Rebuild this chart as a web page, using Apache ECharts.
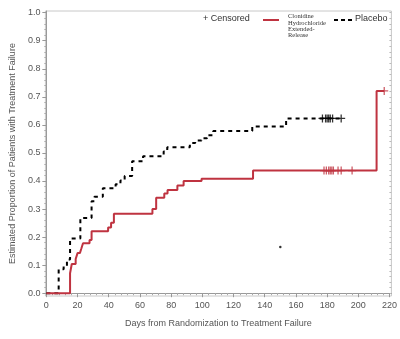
<!DOCTYPE html>
<html>
<head>
<meta charset="utf-8">
<script src="https://cdn.jsdelivr.net/npm/echarts@6/dist/echarts.min.js"></script>
<style>html,body{margin:0;padding:0;background:#fff}#c{width:400px;height:339px}</style>
</head>
<body>
<div id="c"></div>
<script>
// ---- data ----
const xTicks = [0, 20, 40, 60, 80, 100, 120, 140, 160, 180, 200, 220];
const yTicks = [0.0, 0.1, 0.2, 0.3, 0.4, 0.5, 0.6, 0.7, 0.8, 0.9, 1.0];
const xMinorTicks = [4,8,12,16,24,28,32,36,44,48,52,56,64,68,72,76,84,88,92,96,104,108,112,116,124,128,132,136,144,148,152,156,164,168,172,176,184,188,192,196,204,208,212,216];
const yMinorTicks = [0.02,0.04,0.06,0.08,0.12,0.14,0.16,0.18,0.22,0.24,0.26,0.28,0.32,0.34,0.36,0.38,0.42,0.44,0.46,0.48,0.52,0.54,0.56,0.58,0.62,0.64,0.66,0.68,0.72,0.74,0.76,0.78,0.82,0.84,0.86,0.88,0.92,0.94,0.96,0.98];

const clonidineDays = [0, 15.2, 16.3, 18.8, 20, 21.5, 22.5, 23.5, 27.7, 29, 39.6, 41.5, 43.3, 68, 70.4, 75.6, 77.7, 84, 88, 99.5, 132.5, 211.7, 216.6];
const clonidineProp = [0, 0.071, 0.104, 0.122, 0.143, 0.15, 0.16, 0.178, 0.19, 0.221, 0.234, 0.251, 0.283, 0.30, 0.34, 0.355, 0.368, 0.384, 0.40, 0.408, 0.437, 0.721, 0.721];
const clonidineCensorDays = [178, 179.5, 181, 182, 183, 184, 187, 189, 196, 216.6];
const clonidineCensorProp = [0.437, 0.437, 0.437, 0.437, 0.437, 0.437, 0.437, 0.437, 0.437, 0.721];

const placeboDays = [0, 7.9, 11.1, 13.2, 15.2, 21.8, 29, 30.8, 36.2, 44.4, 47.5, 50.2, 55, 62, 75.2, 77.5, 92, 95.4, 99.5, 103, 107, 132, 153.7, 189];
const placeboProp = [0, 0.085, 0.096, 0.12, 0.195, 0.268, 0.328, 0.344, 0.374, 0.388, 0.402, 0.418, 0.47, 0.488, 0.505, 0.52, 0.535, 0.544, 0.552, 0.563, 0.578, 0.594, 0.623, 0.623];
const placeboCensorDays = [177, 179, 180, 181, 182, 183.5, 189];
const placeboCensorProp = [0.623, 0.623, 0.623, 0.623, 0.623, 0.623, 0.623];

const strayDays = [150];
const strayProp = [0.165];

const seriesNames = ['Clonidine Hydrochloride Extended-Release', 'Placebo', 'Censored'];
const xTitle = 'Days from Randomization to Treatment Failure';
const yTitle = 'Estimated Proportion of Patients with Treatment Failure';

// ---- chart ----
const RED = '#bf3340';
const zip = (a, b) => a.map((v, i) => [v, b[i]]);
const plus = 'path://M0,4.2H10V5.8H0Z M4.2,0H5.8V10H4.2Z';
const lblColor = '#555';
const font = 'Arial, "Liberation Sans", sans-serif';
const XMIN = -0.6, XMAX = 221.2, YMIN = -0.01, YMAX = 1.006;

const chart = echarts.init(document.getElementById('c'), null, {renderer: 'canvas'});
chart.setOption({
  animation: false,
  grid: {left: 38, right: 7, top: 11, bottom: 43, show: true, borderColor: '#c8c8c8', borderWidth: 1},
  xAxis: [
    {type: 'value', min: XMIN, max: XMAX, position: 'bottom',
     name: xTitle, nameLocation: 'middle', nameGap: 23,
     nameTextStyle: {color: lblColor, fontSize: 9, fontFamily: font},
     axisLine: {show: true, lineStyle: {color: '#999'}},
     axisTick: {show: true, customValues: xTicks, length: 4, lineStyle: {color: '#999'}},
     axisLabel: {customValues: xTicks, color: lblColor, fontSize: 9, fontFamily: font, margin: 5},
     splitLine: {show: false}},
    {type: 'value', min: XMIN, max: XMAX, position: 'bottom',
     axisLine: {show: false},
     axisTick: {show: true, customValues: xMinorTicks, length: 2, lineStyle: {color: '#aaa'}},
     axisLabel: {show: false}, splitLine: {show: false}}
  ],
  yAxis: [
    {type: 'value', min: YMIN, max: YMAX, position: 'left',
     name: yTitle, nameLocation: 'middle', nameGap: 28,
     nameTextStyle: {color: lblColor, fontSize: 9, fontFamily: font},
     axisLine: {show: true, lineStyle: {color: '#999'}},
     axisTick: {show: true, customValues: yTicks, length: 4, lineStyle: {color: '#999'}},
     axisLabel: {customValues: yTicks, color: lblColor, fontSize: 9, fontFamily: font, margin: 5,
                 formatter: v => v.toFixed(1)},
     splitLine: {show: false}},
    {type: 'value', min: YMIN, max: YMAX, position: 'left',
     axisLine: {show: false},
     axisTick: {show: true, customValues: yMinorTicks, length: 2, lineStyle: {color: '#aaa'}},
     axisLabel: {show: false}, splitLine: {show: false}},
    {type: 'value', min: YMIN, max: YMAX, position: 'right',
     axisLine: {show: false},
     axisTick: {show: true, inside: true, customValues: yMinorTicks.concat(yTicks), length: 2, lineStyle: {color: '#bbb'}},
     axisLabel: {show: false}, splitLine: {show: false}}
  ],
  series: [
    {name: seriesNames[1], type: 'line', step: 'end', symbol: 'none', data: zip(placeboDays, placeboProp),
     lineStyle: {color: '#000', width: 2, type: [4, 4]}, z: 2},
    {name: seriesNames[0], type: 'line', step: 'end', symbol: 'none', data: zip(clonidineDays, clonidineProp),
     lineStyle: {color: RED, width: 2}, z: 3},
    {name: seriesNames[2] + ' (Placebo)', type: 'scatter', symbol: plus, symbolSize: 8,
     data: zip(placeboCensorDays, placeboCensorProp), itemStyle: {color: '#000'}, z: 4},
    {name: seriesNames[2] + ' (Clonidine)', type: 'scatter', symbol: plus, symbolSize: 8,
     data: zip(clonidineCensorDays, clonidineCensorProp), itemStyle: {color: RED}, z: 4},
    {name: 'point', type: 'scatter', symbol: 'circle', symbolSize: 2.5,
     data: zip(strayDays, strayProp), itemStyle: {color: '#000'}, z: 4}
  ],
  graphic: [
    {type: 'text', left: 203, top: 14, style: {text: '+ Censored', fill: '#333', font: '9px ' + font}},
    {type: 'line', shape: {x1: 263, y1: 20, x2: 279, y2: 20}, style: {stroke: RED, lineWidth: 2}},
    {type: 'text', left: 288, top: 13,
     style: {text: 'Clonidine\nHydrochloride\nExtended-\nRelease', fill: '#333',
             font: '6.5px "Liberation Serif", "DejaVu Serif", serif', lineHeight: 6.3}},
    {type: 'line', shape: {x1: 334, y1: 20, x2: 352, y2: 20}, style: {stroke: '#000', lineWidth: 2, lineDash: [4, 3]}},
    {type: 'text', left: 355, top: 14, style: {text: 'Placebo', fill: '#333', font: '9px ' + font}}
  ]
});
</script>
</body>
</html>
